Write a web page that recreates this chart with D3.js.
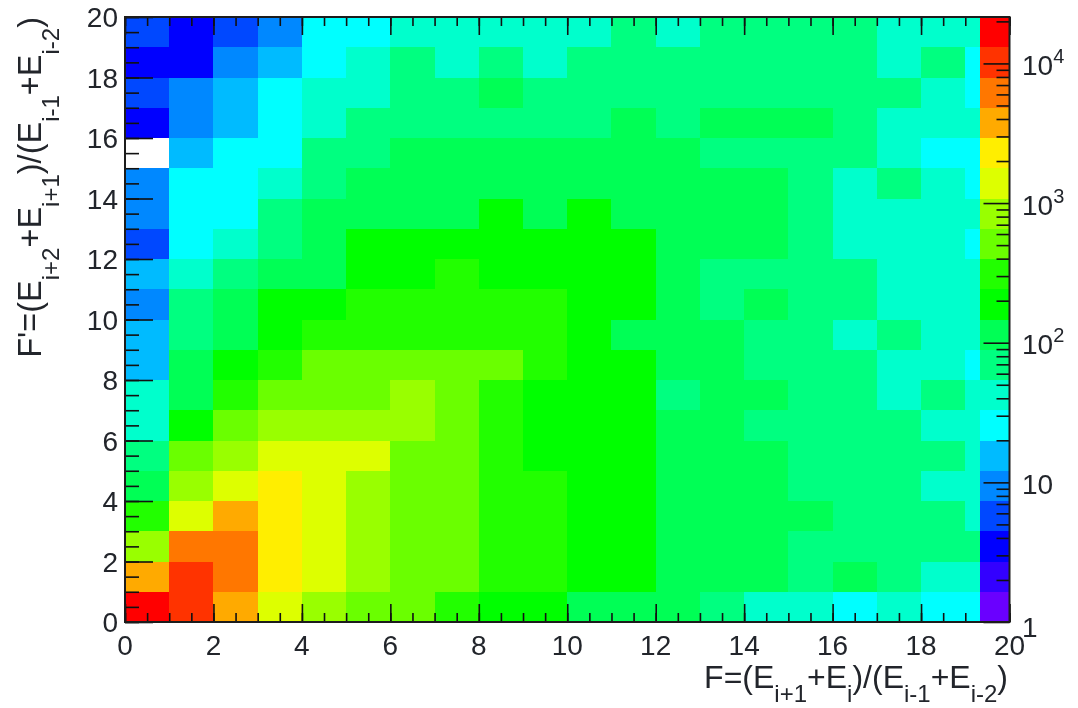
<!DOCTYPE html>
<html>
<head>
<meta charset="utf-8">
<script src="https://cdn.jsdelivr.net/npm/d3@7"></script>
<style>
html,body{margin:0;padding:0;background:#fff;}
svg{display:block;filter:blur(0.55px);}
text{font-family:"Liberation Sans",Arial,sans-serif;fill:#22252b;}
</style>
</head>
<body>
<svg id="chart" width="1078" height="708"></svg>
<script>
// counts per F bin (columns F = 0..19), one array per F' bin
const row00 = [17000,10200,3800,1400,840,510,510,310,190,190,115,115,115,70,42,42,26,42,26,26];
const row01 = [3800,10200,6200,2300,1400,840,510,510,310,310,190,190,115,115,115,70,115,70,42,42];
const row02 = [840,6200,6200,2300,1400,840,510,510,310,310,190,190,115,115,115,70,70,70,70,70];
const row03 = [310,1400,3800,2300,1400,840,510,510,310,310,190,190,115,115,115,115,70,70,70,42];
const row04 = [115,840,1400,2300,1400,840,510,510,310,310,190,190,115,115,115,70,70,70,42,42];
const row05 = [70,510,840,1400,1400,1400,510,510,310,190,190,190,115,115,115,70,70,70,70,42];
const row06 = [42,190,510,840,840,840,840,510,310,190,190,190,115,115,70,70,70,70,42,42];
const row07 = [42,115,310,510,510,510,840,510,310,190,190,190,70,115,115,70,70,42,70,42];
const row08 = [15,115,190,310,510,510,510,510,510,310,190,190,115,115,70,70,70,42,42,26];
const row09 = [15,70,115,190,310,310,310,310,310,310,190,115,115,115,70,70,42,70,42,42];
const row10 = [9,70,115,190,190,310,310,310,310,310,190,190,115,70,115,70,70,42,42,42];
const row11 = [15,42,70,115,115,190,190,310,190,190,190,190,115,70,70,70,70,42,42,42];
const row12 = [6,26,42,70,115,190,190,190,190,190,190,190,115,115,115,70,42,42,42,26];
const row13 = [9,26,26,70,115,115,115,115,190,115,190,115,115,115,115,70,42,42,42,42];
const row14 = [9,26,26,42,70,115,115,115,115,115,115,115,115,115,115,70,42,70,42,26];
const row15 = [0,15,26,26,70,70,115,115,115,115,115,115,115,70,70,70,70,42,26,26];
const row16 = [3,9,15,26,42,70,70,70,70,70,70,115,70,115,115,115,70,42,42,42];
const row17 = [6,9,15,26,42,42,70,70,115,70,70,70,70,70,70,70,70,70,42,26];
const row18 = [3,3,9,15,26,42,70,42,70,42,70,70,70,70,70,70,70,42,70,26];
const row19 = [6,3,6,9,26,26,42,42,42,42,42,70,42,70,70,70,70,42,42,42];
const rows = [row00,row01,row02,row03,row04,row05,row06,row07,row08,row09,row10,row11,row12,row13,row14,row15,row16,row17,row18,row19];

const palette = ["#6a00ff","#3300ff","#0000ff","#0048ff","#0088ff","#00bbff","#00ffff","#00ffcc","#00ff80","#00ff55",
                 "#00ff00","#22ff00","#6aff00","#99ff00","#ddff00","#ffee00","#ffaa00","#ff7700","#ff3300","#ff0000"];
const zMax = 21500;
const xTitle = [["F=(E",0],["i+1",1],["+E",0],["i",1],[")/(E",0],["i-1",1],["+E",0],["i-2",1],[")",0]];
const yTitle = [["F'=(E",0],["i+2",1],["+E",0],["i+1",1],[")/(E",0],["i-1",1],["+E",0],["i-2",1],[")",0]];
const axisMajors = d3.range(0,21,2);
const axisMinors = d3.range(0,20.01,0.5);
const zMajors = [1,10,100,1000,10000];
const zMinors = [2,3,4,5,6,7,8,9,20,30,40,50,60,70,80,90,200,300,400,500,600,700,800,900,2000,3000,4000,5000,6000,7000,8000,9000,20000];

const L=125,R=1009.5,T=17,B=622,palL=979.5;
const svg=d3.select("#chart");
const x=d3.scaleLinear().domain([0,20]).range([L,R]);
const y=d3.scaleLinear().domain([0,20]).range([B,T]);
const z=d3.scaleLog().domain([1,zMax]).range([B,T]);
const colour=d3.scaleQuantize().domain([0,Math.log10(zMax)]).range(palette);

// cells
rows.forEach((vals,j)=>{
  svg.append("g").attr("shape-rendering","crispEdges").selectAll("rect").data(vals).join("rect")
    .attr("x",(d,i)=>x(i)).attr("y",y(j+1))
    .attr("width",(d,i)=>x(i+1)-x(i)).attr("height",y(j)-y(j+1))
    .attr("fill",d=>d>=1?colour(Math.log10(d)):"#fff");
});

function styleAxis(g){
  g.select(".domain").remove();
  g.selectAll("line").attr("stroke","#111").attr("stroke-width",1.6);
  return g;
}
const noFmt=()=>"";
svg.append("g").attr("transform",`translate(0,${B})`).call(d3.axisBottom(x).tickValues(axisMinors).tickSize(-9).tickFormat(noFmt)).call(styleAxis);
svg.append("g").attr("transform",`translate(0,${B})`).call(d3.axisBottom(x).tickValues(axisMajors).tickSize(-18).tickFormat(noFmt)).call(styleAxis);
svg.append("g").attr("transform",`translate(0,${T})`).call(d3.axisTop(x).tickValues(axisMinors).tickSize(-9).tickFormat(noFmt)).call(styleAxis);
svg.append("g").attr("transform",`translate(0,${T})`).call(d3.axisTop(x).tickValues(axisMajors).tickSize(-18).tickFormat(noFmt)).call(styleAxis);
svg.append("g").attr("transform",`translate(${L},0)`).call(d3.axisLeft(y).tickValues(axisMinors).tickSize(-14).tickFormat(noFmt)).call(styleAxis);
svg.append("g").attr("transform",`translate(${L},0)`).call(d3.axisLeft(y).tickValues(axisMajors).tickSize(-28).tickFormat(noFmt)).call(styleAxis);

// palette
svg.append("g").attr("shape-rendering","crispEdges").selectAll("rect").data(palette).join("rect")
  .attr("x",palL).attr("width",R-palL)
  .attr("y",(d,i)=>y(i+1)).attr("height",(d,i)=>y(i)-y(i+1))
  .attr("fill",d=>d);
svg.append("g").attr("transform",`translate(${R},0)`).call(d3.axisRight(z).tickValues(zMinors).tickSize(-13).tickFormat(noFmt)).call(styleAxis);
svg.append("g").attr("transform",`translate(${R},0)`).call(d3.axisRight(z).tickValues(zMajors).tickSize(-26).tickFormat(noFmt)).call(styleAxis);

// frame
svg.append("rect").attr("x",L).attr("y",T).attr("width",R-L).attr("height",B-T)
  .attr("fill","none").attr("stroke","#1c1c1c").attr("stroke-width",2);

// tick labels
const fs=28;
svg.append("g").selectAll("text").data(axisMajors).join("text")
  .attr("x",d=>x(d)).attr("y",B+33).attr("text-anchor","middle").attr("font-size",fs).text(d=>d);
svg.append("g").selectAll("text").data(axisMajors).join("text")
  .attr("x",L-7).attr("y",d=>y(d)+10).attr("text-anchor","end").attr("font-size",fs).text(d=>d);

const zLab=svg.append("g").selectAll("text").data(zMajors).join("text")
  .attr("x",1022).attr("y",d=>d===1?z(d)+15:z(d)+11.5).attr("font-size",fs);
zLab.each(function(d){
  const t=d3.select(this), e=Math.round(Math.log10(d));
  if(e===0){t.text("1");return;}
  if(e===1){t.text("10");return;}
  t.append("tspan").text("10");
  t.append("tspan").attr("font-size",20).attr("dy",-12).text(e);
});

// axis titles
function title(sel,parts,size,subSize,dropBy){
  let prev=0;
  parts.forEach(([s,sub])=>{
    const drop=sub?dropBy:0;
    sel.append("tspan").attr("dy",drop-prev).attr("font-size",sub?subSize:size).text(s);
    prev=drop;
  });
}
svg.append("text").attr("x",1008).attr("y",688).attr("text-anchor","end").call(title,xTitle,32,24,14);
svg.append("text").attr("transform",`translate(41,${T}) rotate(-90)`).attr("text-anchor","end").call(title,yTitle,32.5,24,18);
</script>
</body>
</html>
